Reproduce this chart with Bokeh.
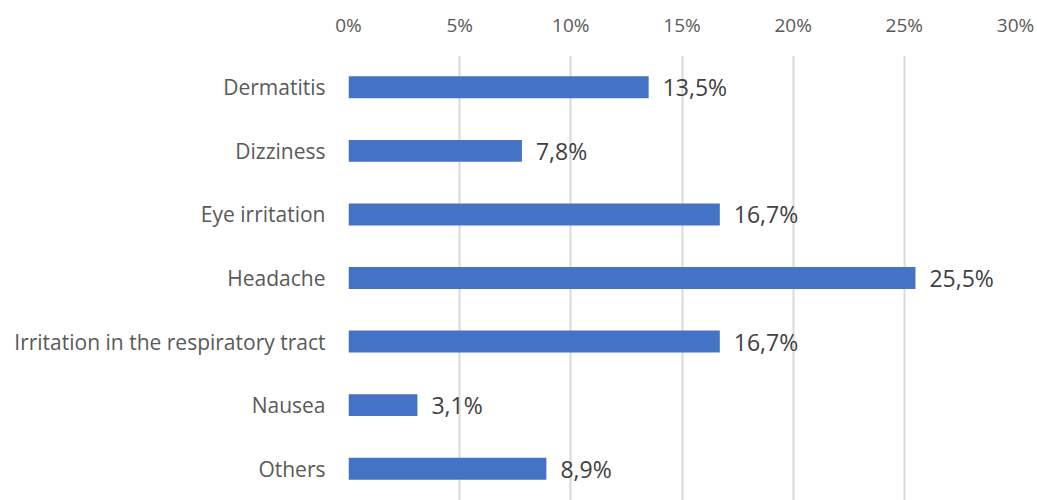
from bokeh.plotting import figure
from bokeh.models import ColumnDataSource, FactorRange, Range1d, FixedTicker
from bokeh.core.properties import value
from bokeh.embed import file_html
from bokeh.resources import INLINE

categories = ["Dermatitis", "Dizziness", "Eye irritation", "Headache",
              "Irritation in the respiratory tract", "Nausea", "Others"]
values = [13.5, 7.8, 16.7, 25.5, 16.7, 3.1, 8.9]
ticks = [0, 5, 10, 15, 20, 25, 30]
tick_labels = ["0%", "5%", "10%", "15%", "20%", "25%", "30%"]

labels = [("%.1f%%" % v).replace(".", ",") for v in values]
src = ColumnDataSource(dict(cat=categories, val=values, lab=labels))

FONT = "Open Sans"

p = figure(width=1037, height=500, output_backend="svg", toolbar_location=None,
           y_range=FactorRange(*reversed(categories), range_padding=0),
           x_range=Range1d(0, 30), x_axis_location="above",
           min_border_left=348, min_border_right=22, min_border_top=55,
           min_border_bottom=0)
p.outline_line_color = None

p.hbar(y="cat", right="val", left=0, height=0.345, source=src,
       color="#4472C4", line_color=None)
p.text(x="val", y="cat", text="lab", source=src, x_offset=14,
       text_baseline="middle", text_align="left",
       text_font=value(FONT), text_font_size="23px", text_color="#404040")

xa = p.xaxis[0]
xa.ticker = FixedTicker(ticks=ticks)
xa.major_label_overrides = {t: l for t, l in zip(ticks, tick_labels)}
xa.axis_line_color = None
xa.major_tick_line_color = None
xa.minor_tick_line_color = None
xa.major_label_text_font = FONT
xa.major_label_text_font_size = "19px"
xa.major_label_text_color = "#595959"
xa.major_label_standoff = 12

ya = p.yaxis[0]
ya.axis_line_color = None
ya.major_tick_line_color = None
ya.minor_tick_line_color = None
ya.major_label_text_font = FONT
ya.major_label_text_font_size = "21px"
ya.major_label_text_color = "#595959"
ya.major_label_standoff = 17

p.xgrid.ticker = FixedTicker(ticks=ticks)
p.xgrid.grid_line_color = "#d9d9d9"
p.xgrid.grid_line_width = 2
p.ygrid.grid_line_color = None

open("out.html", "w").write(file_html(p, INLINE))
